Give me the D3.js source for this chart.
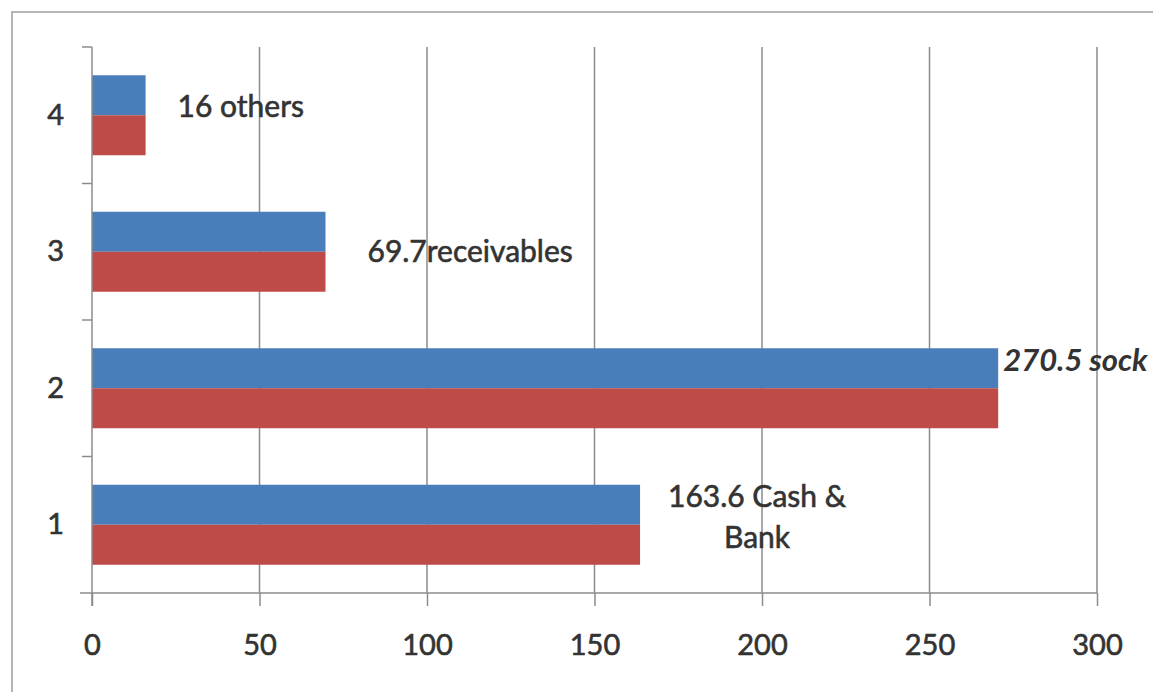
<!DOCTYPE html>
<html>
<head>
<meta charset="utf-8">
<script src="https://cdn.jsdelivr.net/npm/d3@7"></script>
<style>
  body { margin: 0; background: #fff; }
  text { font-family: Lato, "Open Sans", sans-serif; fill: #333; stroke: #333; stroke-width: 0.6px; }
</style>
</head>
<body>
<div id="chart"></div>
<script>
const categories = ["1", "2", "3", "4"];
const seriesNames = ["Series1", "Series2"];
const series1 = [163.6, 270.5, 69.7, 16];
const series2 = [163.6, 270.5, 69.7, 16];
const labelLines = [["163.6 Cash &", "Bank"], ["270.5 sock"], ["69.7receivables"], ["16 others"]];
const xTicks = [0, 50, 100, 150, 200, 250, 300];

const width = 1153;
const height = 692;
const colors = ["#4a7ebb", "#be4b48"];

const svg = d3.select("#chart").append("svg")
    .attr("width", width)
    .attr("height", height)
    .style("display", "block");

// outer chart frame (right and bottom edges are cut off in the original)
svg.append("rect")
    .attr("x", 12).attr("y", 12)
    .attr("width", width + 20).attr("height", height + 20)
    .attr("fill", "none")
    .attr("stroke", "#b5b5b5")
    .attr("stroke-width", 2);

const plotLeft = 92, plotRight = 1097, plotTop = 47, plotBottom = 593;

const x = d3.scaleLinear().domain([0, 300]).range([plotLeft, plotRight]);
const y = d3.scaleBand().domain(categories.slice().reverse()).range([plotTop, plotBottom]).padding(0);
const inner = d3.scaleBand().domain(seriesNames)
    .range([(y.bandwidth() - 80) / 2, (y.bandwidth() + 80) / 2]);

const rows = categories.map((c, i) => ({cat: c, values: [series1[i], series2[i]], lines: labelLines[i]}));

// vertical gridlines
svg.append("g").selectAll("line")
    .data(xTicks.slice(1))
    .enter().append("line")
    .attr("x1", d => x(d)).attr("x2", d => x(d))
    .attr("y1", plotTop).attr("y2", plotBottom)
    .attr("stroke", "#8c8c8c")
    .attr("stroke-width", 1.5);

// bars
const group = svg.append("g").selectAll("g")
    .data(rows)
    .enter().append("g")
    .attr("transform", d => `translate(0,${y(d.cat)})`);

group.selectAll("rect")
    .data(d => d.values.map((v, j) => ({name: seriesNames[j], value: v, j: j})))
    .enter().append("rect")
    .attr("x", x(0))
    .attr("y", d => inner(d.name))
    .attr("width", d => x(d.value) - x(0))
    .attr("height", inner.bandwidth())
    .attr("fill", d => colors[d.j]);

// axes
const xAxis = svg.append("g")
    .attr("transform", `translate(0,${plotBottom})`)
    .call(d3.axisBottom(x).tickValues(xTicks).tickSize(13).tickPadding(28).tickSizeOuter(0));
xAxis.select(".domain").remove();
xAxis.selectAll("line").attr("stroke", "#8c8c8c").attr("stroke-width", 1.5);
xAxis.selectAll("text").style("font-size", "29px").style("font-family", "Lato, sans-serif").attr("fill", "#333");

svg.append("line")
    .attr("x1", 80).attr("x2", plotRight)
    .attr("y1", plotBottom).attr("y2", plotBottom)
    .attr("stroke", "#8c8c8c").attr("stroke-width", 1.5);

const yAxis = svg.append("g")
    .attr("transform", `translate(${plotLeft},0)`)
    .call(d3.axisLeft(y).tickSize(0).tickPadding(28));
yAxis.select(".domain").remove();
yAxis.selectAll("text").style("font-size", "29px").style("font-family", "Lato, sans-serif").attr("fill", "#333");

svg.append("line")
    .attr("x1", plotLeft).attr("x2", plotLeft)
    .attr("y1", plotTop).attr("y2", plotBottom + 13)
    .attr("stroke", "#8c8c8c").attr("stroke-width", 1.5);

// category boundary ticks on the y axis
svg.append("g").selectAll("line")
    .data(d3.range(categories.length))
    .enter().append("line")
    .attr("x1", plotLeft - 10).attr("x2", plotLeft)
    .attr("y1", i => plotTop + i * y.step()).attr("y2", i => plotTop + i * y.step())
    .attr("stroke", "#8c8c8c").attr("stroke-width", 1.5);

// data labels, nudged the way they sit in the original
const labelPos = {
  "1": {dx: 117, dy: 0, anchor: "middle", size: 30},
  "2": {dx: 5, dy: -1, anchor: "start", size: 31},
  "3": {dx: 42, dy: 28, anchor: "start", size: 30},
  "4": {dx: 32, dy: 19, anchor: "start", size: 30}
};

rows.forEach(r => {
  const p = labelPos[r.cat];
  const t = svg.append("text")
      .attr("x", x(r.values[0]) + p.dx)
      .attr("y", y(r.cat) + inner("Series1") + p.dy)
      .attr("text-anchor", p.anchor)
      .style("font-size", p.size + "px");
  if (r.cat === "2") t.style("font-weight", "bold").style("font-style", "italic").style("stroke-width", "0");
  r.lines.forEach((line, k) => {
    t.append("tspan")
        .attr("x", x(r.values[0]) + p.dx)
        .attr("dy", k === 0 ? "0.75em" : "1.37em")
        .text(line);
  });
});
</script>
</body>
</html>
